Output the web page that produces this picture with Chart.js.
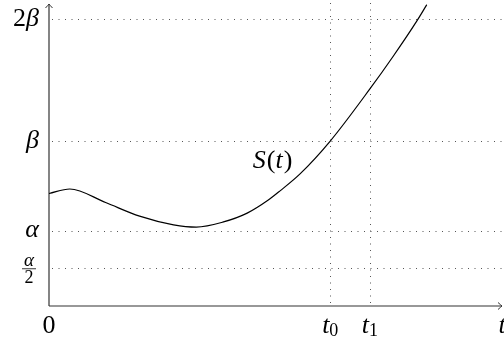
<!DOCTYPE html>
<html>
<head>
<meta charset="utf-8">
<script src="https://cdn.jsdelivr.net/npm/chart.js@4/dist/chart.umd.min.js"></script>
<style>
html,body{margin:0;padding:0;background:#fff;}
#c{display:block;}
</style>
</head>
<body>
<canvas id="c" width="504" height="342"></canvas>
<script>
// Curve S(t) (t in axis units, S in axis units)
const curveT = [0, 0.55, 1.5, 2.4, 3.3, 3.9, 4.6, 5.25, 5.8, 6.12, 6.65, 7.45, 8.5, 9.1, 9.75, 10.0];
const curveS = [2.98, 3.10, 2.74, 2.38, 2.15, 2.09, 2.22, 2.46, 2.80, 3.05, 3.50, 4.37, 5.75, 6.59, 7.56, 7.97];

// Axis ticks
const xTickValues = [0, 7.45, 8.5, 12];
const xTickMain   = ['0', 't', 't', 't'];
const xTickSub    = ['', '0', '1', ''];
const xGridValues = [7.45, 8.5];

const yTickValues = [1, 2, 4.37, 7.6];
const yTickLabels = ['α/2', 'α', 'β', '2β'];
const yGridValues = [1, 2, 4.37, 7.6];

const xMax = 12, yMax = 8;

const points = curveT.map((t, i) => ({x: t, y: curveS[i]}));

const FAM = '"Liberation Serif", "Times New Roman", serif';
const ITALIC = 'italic 26px ' + FAM;
const UPRIGHT = '26px ' + FAM;
const SUB = '18px ' + FAM;

const decor = {
  id: 'decor',
  beforeDatasetsDraw(chart) {
    const {ctx, chartArea: a, scales: {x, y}} = chart;
    ctx.save();
    ctx.strokeStyle = '#555';
    ctx.lineWidth = 1;
    ctx.setLineDash([1, 5.5]);
    yGridValues.forEach(v => {
      const py = Math.round(y.getPixelForValue(v)) + 0.5;
      ctx.beginPath(); ctx.moveTo(a.left + 3, py); ctx.lineTo(a.right, py); ctx.stroke();
    });
    xGridValues.forEach(v => {
      const px = Math.round(x.getPixelForValue(v)) + 0.5;
      ctx.beginPath(); ctx.moveTo(px, a.bottom - 3); ctx.lineTo(px, a.top - 4); ctx.stroke();
    });
    ctx.setLineDash([]);
    const ox = x.getPixelForValue(0), oy = y.getPixelForValue(0);
    const ex = x.getPixelForValue(xMax), ey = y.getPixelForValue(yMax);
    ctx.strokeStyle = '#333';
    ctx.lineWidth = 1.2;
    ctx.beginPath(); ctx.moveTo(ox, oy); ctx.lineTo(ex, oy); ctx.stroke();
    ctx.beginPath(); ctx.moveTo(ox, oy); ctx.lineTo(ox, ey); ctx.stroke();
    ctx.lineWidth = 1;
    ctx.beginPath();
    ctx.moveTo(ex - 4, oy - 3.5); ctx.quadraticCurveTo(ex - 1, oy - 0.8, ex, oy);
    ctx.quadraticCurveTo(ex - 1, oy + 0.8, ex - 4, oy + 3.5);
    ctx.stroke();
    ctx.beginPath();
    ctx.moveTo(ox - 3.5, ey + 4); ctx.quadraticCurveTo(ox - 0.8, ey + 1, ox, ey);
    ctx.quadraticCurveTo(ox + 0.8, ey + 1, ox + 3.5, ey + 4);
    ctx.stroke();
    ctx.restore();
  },
  afterDraw(chart) {
    const {ctx, chartArea: a, scales: {x, y}} = chart;
    ctx.save();
    ctx.fillStyle = '#000';
    ctx.textBaseline = 'middle';
    yTickValues.forEach((v, i) => {
      const py = y.getPixelForValue(v);
      const lab = yTickLabels[i];
      const right = a.left - 10;
      if (lab.includes('/')) {
        const [num, den] = lab.split('/');
        const cx = right - 10;
        ctx.textAlign = 'center';
        ctx.font = 'italic 19px ' + FAM;
        ctx.fillText(num, cx, py - 7);
        ctx.font = '18px ' + FAM;
        ctx.fillText(den, cx, py + 10);
        ctx.strokeStyle = '#000'; ctx.lineWidth = 0.8;
        ctx.beginPath(); ctx.moveTo(cx - 7, py + 0.5); ctx.lineTo(cx + 7, py + 0.5); ctx.stroke();
      } else if (/^\d/.test(lab)) {
        ctx.textAlign = 'left';
        ctx.font = ITALIC;
        const w2 = ctx.measureText(lab.slice(1)).width;
        ctx.font = UPRIGHT;
        const w1 = ctx.measureText(lab[0]).width;
        const start = right - w1 - w2;
        ctx.fillText(lab[0], start, py);
        ctx.font = ITALIC;
        ctx.fillText(lab.slice(1), start + w1, py);
      } else {
        ctx.textAlign = 'right';
        ctx.font = ITALIC;
        ctx.fillText(lab, right, py);
      }
    });
    const ly = a.bottom + 20;
    xTickValues.forEach((v, i) => {
      const px = x.getPixelForValue(v);
      const main = xTickMain[i], sub = xTickSub[i];
      ctx.font = /^\d/.test(main) ? UPRIGHT : ITALIC;
      const wm = ctx.measureText(main).width;
      ctx.font = SUB;
      const ws = sub ? ctx.measureText(sub).width : 0;
      const start = px - (wm + ws) / 2;
      ctx.textAlign = 'left';
      ctx.font = /^\d/.test(main) ? UPRIGHT : ITALIC;
      ctx.fillText(main, start, ly);
      if (sub) { ctx.font = SUB; ctx.fillText(sub, start + wm, ly + 5); }
    });
    ctx.textAlign = 'left';
    ctx.font = ITALIC;
    const sx = x.getPixelForValue(5.4), sy = y.getPixelForValue(3.84);
    ctx.fillText('S', sx, sy);
    const ws = ctx.measureText('S').width;
    ctx.font = UPRIGHT;
    ctx.fillText('(', sx + ws + 1, sy);
    const wp = ctx.measureText('(').width;
    ctx.font = ITALIC;
    ctx.fillText('t', sx + ws + 1 + wp, sy);
    const wt = ctx.measureText('t').width;
    ctx.font = UPRIGHT;
    ctx.fillText(')', sx + ws + 1 + wp + wt + 1, sy);
    ctx.restore();
  }
};

new Chart(document.getElementById('c'), {
  type: 'line',
  data: {
    datasets: [{
      data: points,
      borderColor: '#000',
      borderWidth: 1.2,
      pointRadius: 0,
      cubicInterpolationMode: 'monotone',
      fill: false
    }]
  },
  options: {
    responsive: false,
    animation: false,
    layout: {padding: {left: 49, right: 2, top: 4, bottom: 36}},
    plugins: {legend: {display: false}, tooltip: {enabled: false}},
    scales: {
      x: {type: 'linear', min: 0, max: xMax, display: false},
      y: {type: 'linear', min: 0, max: yMax, display: false}
    },
    elements: {line: {borderCapStyle: 'round'}}
  },
  plugins: [decor]
});
</script>
</body>
</html>
